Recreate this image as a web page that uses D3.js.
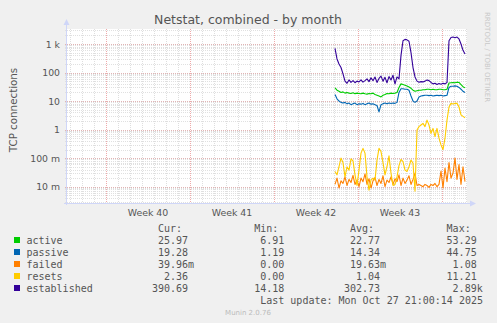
<!DOCTYPE html>
<html>
<head>
<meta charset="utf-8">
<style>
  body { margin: 0; background: #f0f0f0; }
  svg { display: block; }
  text { font-family: "DejaVu Sans", sans-serif; fill: #555; }
  .mono { font-family: "DejaVu Sans Mono", monospace; font-size: 10px; }
</style>
<script src="https://cdn.jsdelivr.net/npm/d3@7"></script>
</head>
<body>
<script>
// samples every 4 hours, first one Oct 18 02:00
var firstSample = new Date(Date.UTC(2025, 9, 18, 2));

var active = [29, 24, 22, 20, 21, 19, 20, 19, 18.5, 19.5, 18, 19, 18.5, 18, 19, 18, 17.5, 18.5, 18, 19,
  17, 16, 15, 14, 16, 17, 18.5, 18, 19, 18.5, 19, 20, 30, 40, 38, 36, 34, 31, 28, 24,
  22, 23, 24, 24, 25, 25, 26, 26, 25, 26, 25, 25, 26, 26, 25, 25, 26, 43, 44, 45,
  44, 46, 45, 38, 32, 29];

var passive = [17, 12, 10, 9, 8.5, 9, 8, 8.5, 7.5, 8, 8.5, 7.5, 8, 7.8, 8.2, 7.5, 8, 8.5, 7.8, 8,
  7.5, 7, 4.2, 7.5, 8, 8.5, 8, 8.5, 8.2, 8.5, 8.3, 9, 20, 27, 27, 26, 26, 24, 15, 10,
  9, 10, 14, 15, 15.5, 16, 16, 15.5, 16, 15, 15.5, 16, 15.5, 16, 15, 15.5, 16, 30, 33, 33,
  34, 33, 30, 26, 22, 20];

var failed = [0.012, 0.02, 0.009, 0.016, 0.013, 0.022, 0.011, 0.018, 0.014, 0.025, 0.012, 0.017, 0.01, 0.02, 0.015, 0.028, 0.012, 0.019, 0.009, 0.016,
  0.021, 0.011, 0.018, 0.013, 0.024, 0.01, 0.017, 0.014, 0.022, 0.012, 0.019, 0.015, 0.026, 0.011, 0.02, 0.013, 0.017, 0.024, 0.012, 0.018,
  0.03, 0.011, 0.012, 0.011, 0.01, 0.012, 0.011, 0.0095, 0.012, 0.011, 0.013, 0.01, 0.012, 0.035, 0.009, 0.045, 0.015, 0.07, 0.02, 0.03,
  0.1, 0.018, 0.06, 0.012, 0.05, 0.015];

var resets = [0.034, 0.026, 0.05, 0.1, 0.07, 0.022, 0.05, 0.038, 0.095, 0.08, 0.026, 0.011, 0.038, 0.15, 0.22, 0.15, 0.022, 0.0076, 0.017, 0.02,
  0.017, 0.086, 0.22, 0.17, 0.07, 0.026, 0.05, 0.12, 0.03, 0.011, 0.012, 0.022, 0.055, 0.09, 0.075, 0.038, 0.034, 0.05, 0.086, 0.066,
  0.007, 0.97, 1.27, 1.45, 1.65, 1.27, 2.15, 1.45, 0.74, 1.1, 0.57, 1.1, 0.5, 0.29, 0.2, 0.5, 2.15, 6.2, 8.3, 7.9,
  8.3, 8.3, 6.2, 3.3, 2.9, 2.6];

var established = [700, 300, 200, 150, 90, 50, 42, 55, 45, 52, 44, 50, 47, 55, 46, 52, 60, 48, 65, 52,
  70, 45, 62, 75, 50, 68, 44, 72, 55, 80, 40, 70, 60, 400, 1300, 1450, 1400, 1250, 500, 150,
  70, 50, 46, 48, 47, 50, 55, 52, 45, 40, 42, 38, 41, 39, 42, 40, 45, 1300, 1700, 1750,
  1650, 1750, 1500, 1000, 600, 450];

var seriesNames = ["active", "passive", "failed", "resets", "established"];
var seriesColors = ["#00cc00", "#0066b3", "#ff8000", "#ffcc00", "#330099"];
var curVals = ["25.97", "19.28", "39.96m", "2.36", "390.69"];
var minVals = ["6.91", "1.19", "0.00", "0.00", "14.18"];
var avgVals = ["22.77", "14.34", "19.63m", "1.04", "302.73"];
var maxVals = ["53.29", "44.75", "1.08", "11.21", "2.89k"];

var yTicks = [1000, 100, 10, 1, 0.1, 0.01];
var yTickLabels = ["1 k", "100", "10", "1", "100 m", "10 m"];
var weekLabels = ["Week 40", "Week 41", "Week 42", "Week 43"];

var W = 497, H = 323;
var plotLeft = 67, plotRight = 467, plotTop = 29, plotBottom = 203;

var svg = d3.select("body").append("svg")
    .attr("width", W)
    .attr("height", H);

svg.append("rect").attr("width", W).attr("height", H).attr("fill", "#f0f0f0");
svg.append("rect")
    .attr("x", plotLeft).attr("y", plotTop)
    .attr("width", plotRight - plotLeft).attr("height", plotBottom - plotTop)
    .attr("fill", "#fff");

var x = d3.scaleUtc()
    .domain([new Date(Date.UTC(2025, 8, 25, 18)), new Date(Date.UTC(2025, 9, 29, 2))])
    .range([plotLeft, plotRight]);
var y = d3.scaleLog()
    .domain([0.00268, 3355])
    .range([plotBottom, plotTop]);

var grid = svg.append("g").attr("stroke-dasharray", "1,1").attr("shape-rendering", "crispEdges");

// minor horizontal lines (2..9 of each decade)
var minorY = [];
[0.001, 0.01, 0.1, 1, 10, 100, 1000].forEach(function(d) {
  for (var k = 2; k <= 9; k++) {
    var v = d * k;
    if (v > y.domain()[0] && v < y.domain()[1]) minorY.push(v);
  }
});
grid.selectAll(".hminor").data(minorY).enter().append("line")
    .attr("x1", plotLeft - 2).attr("x2", plotRight)
    .attr("y1", function(d) { return Math.round(y(d)) + 0.5; })
    .attr("y2", function(d) { return Math.round(y(d)) + 0.5; })
    .attr("stroke", "#e0e0e0");

// day lines
grid.selectAll(".vminor").data(d3.utcDay.range(x.domain()[0], x.domain()[1])).enter().append("line")
    .attr("x1", function(d) { return Math.round(x(d)) + 0.5; })
    .attr("x2", function(d) { return Math.round(x(d)) + 0.5; })
    .attr("y1", plotTop).attr("y2", plotBottom + 2)
    .attr("stroke", "#dedede");

// decade lines
grid.selectAll(".hmajor").data(yTicks).enter().append("line")
    .attr("x1", plotLeft - 2).attr("x2", plotRight)
    .attr("y1", function(d) { return Math.round(y(d)) + 0.5; })
    .attr("y2", function(d) { return Math.round(y(d)) + 0.5; })
    .attr("stroke", "#e2b4b4");

// week lines
var mondays = d3.utcMonday.range(x.domain()[0], x.domain()[1]);
grid.selectAll(".vmajor").data(mondays).enter().append("line")
    .attr("x1", function(d) { return Math.round(x(d)) + 0.5; })
    .attr("x2", function(d) { return Math.round(x(d)) + 0.5; })
    .attr("y1", plotTop).attr("y2", plotBottom + 2)
    .attr("stroke", "#efaaaa");

// axes
var axisColor = "#cfd6f8";
svg.append("line").attr("x1", plotLeft - 0.5).attr("x2", plotLeft - 0.5).attr("y1", plotBottom + 2).attr("y2", 23)
    .attr("stroke", axisColor);
svg.append("line").attr("x1", plotLeft - 3).attr("x2", plotRight + 4).attr("y1", plotBottom + 0.5).attr("y2", plotBottom + 0.5)
    .attr("stroke", axisColor);
svg.append("path").attr("d", "M" + (plotLeft - 3.5) + ",25L" + (plotLeft - 0.5) + ",19L" + (plotLeft + 2.5) + ",25Z")
    .attr("fill", axisColor);
svg.append("path").attr("d", "M" + (plotRight + 3) + "," + (plotBottom - 2.5) + "L" + (plotRight + 9) + "," + (plotBottom + 0.5) + "L" + (plotRight + 3) + "," + (plotBottom + 3.5) + "Z")
    .attr("fill", axisColor);

// y tick labels
svg.selectAll(".ylab").data(yTicks).enter().append("text")
    .attr("x", 60)
    .attr("y", function(d) { return y(d) + 3.5; })
    .attr("text-anchor", "end")
    .style("font-size", "9.3px")
    .text(function(d, i) { return yTickLabels[i]; });

// week labels in middle of each week
svg.selectAll(".wlab").data(weekLabels).enter().append("text")
    .attr("x", function(d, i) { return x(d3.utcHour.offset(mondays[i], 84)); })
    .attr("y", 216)
    .attr("text-anchor", "middle")
    .style("font-size", "9.4px")
    .text(function(d) { return d; });

// series lines
var allSeries = [active, passive, failed, resets, established];
var line = d3.line()
    .x(function(d, i) { return x(d3.utcHour.offset(firstSample, 4 * i)); })
    .y(function(d) { return y(d); });

allSeries.forEach(function(s, i) {
  svg.append("path")
      .datum(s)
      .attr("fill", "none")
      .attr("stroke", seriesColors[i])
      .attr("stroke-width", 1.1)
      .attr("stroke-linejoin", "round")
      .attr("d", line);
});

// titles
svg.append("text")
    .attr("x", 248).attr("y", 23.5)
    .attr("text-anchor", "middle")
    .style("font-size", "12.5px")
    .text("Netstat, combined - by month");

svg.append("text")
    .attr("transform", "translate(17,110)rotate(-90)")
    .attr("text-anchor", "middle")
    .style("font-size", "10.3px")
    .text("TCP connections");

svg.append("text")
    .attr("transform", "translate(485,12)rotate(90)")
    .style("font-size", "7px")
    .style("fill", "#c8c8c8")
    .text("RRDTOOL / TOBI OETIKER");

// legend
var colEnds = [188, 284.3, 380, 476.7];
var headers = ["Cur:", "Min:", "Avg:", "Max:"];
headers.forEach(function(h, j) {
  svg.append("text").attr("class", "mono")
      .attr("x", colEnds[j] - 6).attr("y", 231.5)
      .attr("text-anchor", "end")
      .text(h);
});

var cols = [curVals, minVals, avgVals, maxVals];
seriesNames.forEach(function(name, i) {
  var base = 243.5 + i * 12;
  svg.append("rect")
      .attr("x", 14).attr("y", base - 6.5)
      .attr("width", 6).attr("height", 6)
      .attr("fill", seriesColors[i]);
  svg.append("text").attr("class", "mono")
      .attr("x", 26.5).attr("y", base)
      .text(name);
  cols.forEach(function(col, j) {
    var s = col[i], suffix = "";
    if (/[a-z]$/i.test(s)) { suffix = s.slice(-1); s = s.slice(0, -1); }
    svg.append("text").attr("class", "mono")
        .attr("x", colEnds[j]).attr("y", base)
        .attr("text-anchor", "end")
        .text(s);
    if (suffix) {
      svg.append("text").attr("class", "mono")
          .attr("x", colEnds[j]).attr("y", base)
          .text(suffix);
    }
  });
});

svg.append("text").attr("class", "mono")
    .attr("x", 483).attr("y", 303.5)
    .attr("text-anchor", "end")
    .text("Last update: Mon Oct 27 21:00:14 2025");

svg.append("text")
    .attr("x", 248).attr("y", 315)
    .attr("text-anchor", "middle")
    .style("font-size", "7px")
    .style("fill", "#bbb")
    .text("Munin 2.0.76");
</script>
</body>
</html>
